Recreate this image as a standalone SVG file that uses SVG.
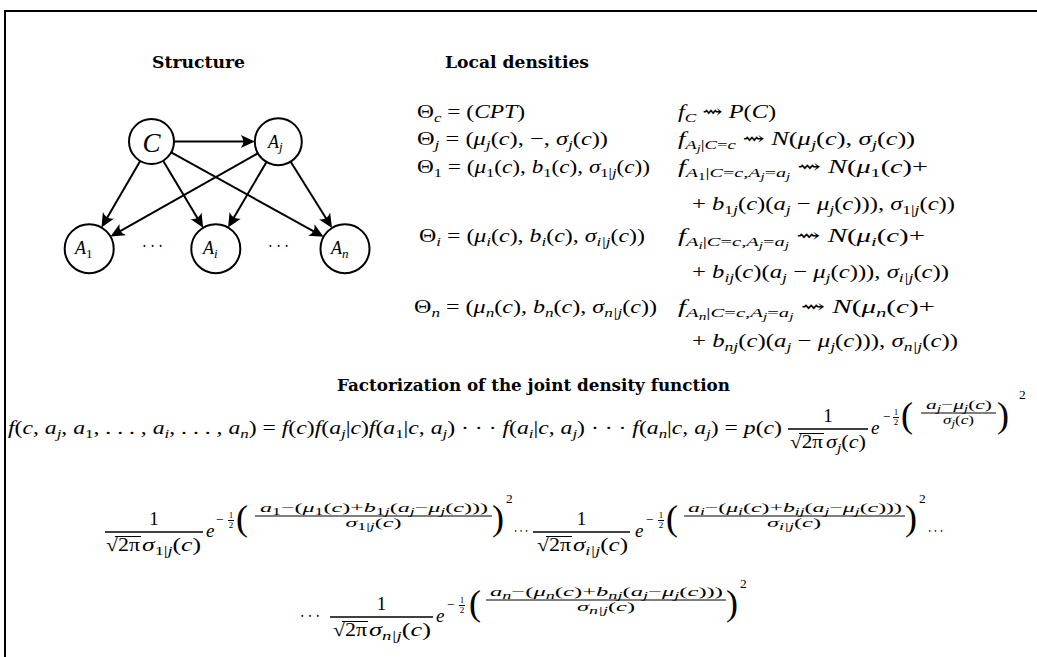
<svg xmlns="http://www.w3.org/2000/svg" width="1037" height="657" viewBox="0 0 1037 657">
<style>
text { font-family: "Liberation Serif", "DejaVu Serif", "DejaVu Sans", serif; fill: #000; }
.m { font-size: 19px; }
.i { font-style: italic; }
.s { font-size: 13.5px; }
.ss { font-size: 10px; }
.e { font-size: 13.5px; }
.es { font-size: 10px; }
.q { font-size: 9px; }
.bp { font-size: 36px; }
.h { font-family: "DejaVu Serif", serif; font-weight: bold; font-size: 16px; }
.nl { font-size: 18px; font-style: italic; }
.nls { font-size: 13px; }
.node circle { fill: #fff; stroke: #000; stroke-width: 2; }
.edge { stroke: #000; stroke-width: 2; fill: none; marker-end: url(#ah); }
.bar { stroke: #000; stroke-width: 1.3; }
.sbar { stroke: #000; stroke-width: 1; }
.frame { stroke: #000; stroke-width: 2; fill: none; }
</style>
<defs>
<marker id="ah" markerUnits="userSpaceOnUse" viewBox="-15 -8 17 16" markerWidth="17" markerHeight="16" refX="-3" refY="0" orient="auto">
<path d="M1,0 L-13,-6.5 Q-8,0 -13,6.5 Z" fill="#000"/>
</marker>
</defs>

<path class="frame" d="M5,657 V11 H1037"/>

<!-- titles -->
<text class="h" x="152" y="68" textLength="93" lengthAdjust="spacingAndGlyphs">Structure</text>
<text class="h" x="445" y="68" textLength="144" lengthAdjust="spacingAndGlyphs">Local densities</text>
<text class="h" x="337" y="391" textLength="393" lengthAdjust="spacingAndGlyphs">Factorization of the joint density function</text>

<!-- connectors -->
<g id="edges">
<path class="edge" d="M174,141.6 L250.8,141.6"/>
<path class="edge" d="M140.2,160.9 L103.5,224"/>
<path class="edge" d="M163.1,160.8 L201.1,224.3"/>
<path class="edge" d="M171.2,152.4 L320.1,234.9"/>
<path class="edge" d="M257.9,153.3 L114,234.6"/>
<path class="edge" d="M266.5,162 L230.1,224"/>
<path class="edge" d="M290.7,161.7 L329.9,224.5"/>
</g>

<!-- nodes -->
<g id="node-C" class="node"><circle cx="151.5" cy="141.5" r="22.5"/><text x="151.5" y="151.5" class="i" font-size="27" text-anchor="middle">C</text></g>
<g id="node-Aj" class="node"><circle cx="278.3" cy="141.7" r="23.5"/><text x="268" y="147.5" class="nl">A<tspan class="nls" dy="3.5">j</tspan></text></g>
<g id="node-A1" class="node"><circle cx="89.2" cy="248.7" r="24.5"/><text x="75" y="254" class="nl">A<tspan class="nls" font-style="normal" dy="3.5">1</tspan></text></g>
<g id="node-Ai" class="node"><circle cx="215.8" cy="248.7" r="24.5"/><text x="203" y="254" class="nl">A<tspan class="nls" dy="3.5">i</tspan></text></g>
<g id="node-An" class="node"><circle cx="345" cy="248.7" r="24.5"/><text x="331" y="254" class="nl">A<tspan class="nls" dy="3.5">n</tspan></text></g>
<text class="m" x="142" y="252" textLength="21" lengthAdjust="spacingAndGlyphs">· · ·</text>
<text class="m" x="268" y="252" textLength="21" lengthAdjust="spacingAndGlyphs">· · ·</text>

<!-- parameter sets -->
<g id="params">
<text class="m" x="417" y="118" textLength="108" lengthAdjust="spacingAndGlyphs">Θ<tspan class="s i" dy="4">c</tspan><tspan dy="-4"> = (</tspan><tspan class="i">CPT</tspan>)</text>
<text class="m" x="417" y="145" textLength="191" lengthAdjust="spacingAndGlyphs">Θ<tspan class="s i" dy="4">j</tspan><tspan dy="-4"> = (</tspan><tspan class="i">μ</tspan><tspan class="s i" dy="4">j</tspan><tspan dy="-4">(</tspan><tspan class="i">c</tspan>), −, <tspan class="i">σ</tspan><tspan class="s i" dy="4">j</tspan><tspan dy="-4">(</tspan><tspan class="i">c</tspan>))</text>
<text class="m" x="417" y="173" textLength="233" lengthAdjust="spacingAndGlyphs">Θ<tspan class="s" dy="4">1</tspan><tspan dy="-4"> = (</tspan><tspan class="i">μ</tspan><tspan class="s" dy="4">1</tspan><tspan dy="-4">(</tspan><tspan class="i">c</tspan>), <tspan class="i">b</tspan><tspan class="s" dy="4">1</tspan><tspan dy="-4">(</tspan><tspan class="i">c</tspan>), <tspan class="i">σ</tspan><tspan class="s" dy="4">1|<tspan class="i">j</tspan></tspan><tspan dy="-4">(</tspan><tspan class="i">c</tspan>))</text>
<text class="m" x="419" y="242" textLength="226" lengthAdjust="spacingAndGlyphs">Θ<tspan class="s i" dy="4">i</tspan><tspan dy="-4"> = (</tspan><tspan class="i">μ</tspan><tspan class="s i" dy="4">i</tspan><tspan dy="-4">(</tspan><tspan class="i">c</tspan>), <tspan class="i">b</tspan><tspan class="s i" dy="4">i</tspan><tspan dy="-4">(</tspan><tspan class="i">c</tspan>), <tspan class="i">σ</tspan><tspan class="s i" dy="4">i|j</tspan><tspan dy="-4">(</tspan><tspan class="i">c</tspan>))</text>
<text class="m" x="414" y="313" textLength="243" lengthAdjust="spacingAndGlyphs">Θ<tspan class="s i" dy="4">n</tspan><tspan dy="-4"> = (</tspan><tspan class="i">μ</tspan><tspan class="s i" dy="4">n</tspan><tspan dy="-4">(</tspan><tspan class="i">c</tspan>), <tspan class="i">b</tspan><tspan class="s i" dy="4">n</tspan><tspan dy="-4">(</tspan><tspan class="i">c</tspan>), <tspan class="i">σ</tspan><tspan class="s i" dy="4">n|j</tspan><tspan dy="-4">(</tspan><tspan class="i">c</tspan>))</text>
</g>

<!-- local densities -->
<g id="densities">
<text class="m" x="678" y="118" textLength="98" lengthAdjust="spacingAndGlyphs"><tspan class="i">f</tspan><tspan class="s i" dy="4">C</tspan><tspan dy="-4"> ⇝ </tspan><tspan class="i">P</tspan>(<tspan class="i">C</tspan>)</text>
<text class="m" x="678" y="145" textLength="237" lengthAdjust="spacingAndGlyphs"><tspan class="i">f</tspan><tspan class="s" dy="4"><tspan class="i">A</tspan><tspan class="ss i" dy="3">j</tspan><tspan dy="-3">|<tspan class="i">C</tspan>=<tspan class="i">c</tspan></tspan></tspan><tspan dy="-4"> ⇝ </tspan><tspan class="i">N</tspan>(<tspan class="i">μ</tspan><tspan class="s i" dy="4">j</tspan><tspan dy="-4">(</tspan><tspan class="i">c</tspan>), <tspan class="i">σ</tspan><tspan class="s i" dy="4">j</tspan><tspan dy="-4">(</tspan><tspan class="i">c</tspan>))</text>
<text class="m" x="678" y="173" textLength="250" lengthAdjust="spacingAndGlyphs"><tspan class="i">f</tspan><tspan class="s" dy="4"><tspan class="i">A</tspan><tspan class="ss" dy="3">1</tspan><tspan dy="-3">|<tspan class="i">C</tspan>=<tspan class="i">c</tspan>,<tspan class="i">A</tspan></tspan><tspan class="ss i" dy="3">j</tspan><tspan dy="-3">=<tspan class="i">a</tspan></tspan><tspan class="ss i" dy="3">j</tspan></tspan><tspan dy="-7"> ⇝ </tspan><tspan class="i">N</tspan>(<tspan class="i">μ</tspan><tspan class="s" dy="4">1</tspan><tspan dy="-4">(</tspan><tspan class="i">c</tspan>)+</text>
<text class="m" x="692" y="210" textLength="263" lengthAdjust="spacingAndGlyphs">+ <tspan class="i">b</tspan><tspan class="s" dy="4">1<tspan class="i">j</tspan></tspan><tspan dy="-4">(</tspan><tspan class="i">c</tspan>)(<tspan class="i">a</tspan><tspan class="s i" dy="4">j</tspan><tspan dy="-4"> − </tspan><tspan class="i">μ</tspan><tspan class="s i" dy="4">j</tspan><tspan dy="-4">(</tspan><tspan class="i">c</tspan>))), <tspan class="i">σ</tspan><tspan class="s" dy="4">1|<tspan class="i">j</tspan></tspan><tspan dy="-4">(</tspan><tspan class="i">c</tspan>))</text>
<text class="m" x="678" y="242" textLength="247" lengthAdjust="spacingAndGlyphs"><tspan class="i">f</tspan><tspan class="s" dy="4"><tspan class="i">A</tspan><tspan class="ss i" dy="3">i</tspan><tspan dy="-3">|<tspan class="i">C</tspan>=<tspan class="i">c</tspan>,<tspan class="i">A</tspan></tspan><tspan class="ss i" dy="3">j</tspan><tspan dy="-3">=<tspan class="i">a</tspan></tspan><tspan class="ss i" dy="3">j</tspan></tspan><tspan dy="-7"> ⇝ </tspan><tspan class="i">N</tspan>(<tspan class="i">μ</tspan><tspan class="s i" dy="4">i</tspan><tspan dy="-4">(</tspan><tspan class="i">c</tspan>)+</text>
<text class="m" x="692" y="278" textLength="257" lengthAdjust="spacingAndGlyphs">+ <tspan class="i">b</tspan><tspan class="s i" dy="4">ij</tspan><tspan dy="-4">(</tspan><tspan class="i">c</tspan>)(<tspan class="i">a</tspan><tspan class="s i" dy="4">j</tspan><tspan dy="-4"> − </tspan><tspan class="i">μ</tspan><tspan class="s i" dy="4">j</tspan><tspan dy="-4">(</tspan><tspan class="i">c</tspan>))), <tspan class="i">σ</tspan><tspan class="s i" dy="4">i|j</tspan><tspan dy="-4">(</tspan><tspan class="i">c</tspan>))</text>
<text class="m" x="678" y="313" textLength="257" lengthAdjust="spacingAndGlyphs"><tspan class="i">f</tspan><tspan class="s" dy="4"><tspan class="i">A</tspan><tspan class="ss i" dy="3">n</tspan><tspan dy="-3">|<tspan class="i">C</tspan>=<tspan class="i">c</tspan>,<tspan class="i">A</tspan></tspan><tspan class="ss i" dy="3">j</tspan><tspan dy="-3">=<tspan class="i">a</tspan></tspan><tspan class="ss i" dy="3">j</tspan></tspan><tspan dy="-7"> ⇝ </tspan><tspan class="i">N</tspan>(<tspan class="i">μ</tspan><tspan class="s i" dy="4">n</tspan><tspan dy="-4">(</tspan><tspan class="i">c</tspan>)+</text>
<text class="m" x="692" y="347" textLength="266" lengthAdjust="spacingAndGlyphs">+ <tspan class="i">b</tspan><tspan class="s i" dy="4">nj</tspan><tspan dy="-4">(</tspan><tspan class="i">c</tspan>)(<tspan class="i">a</tspan><tspan class="s i" dy="4">j</tspan><tspan dy="-4"> − </tspan><tspan class="i">μ</tspan><tspan class="s i" dy="4">j</tspan><tspan dy="-4">(</tspan><tspan class="i">c</tspan>))), <tspan class="i">σ</tspan><tspan class="s i" dy="4">n|j</tspan><tspan dy="-4">(</tspan><tspan class="i">c</tspan>))</text>
</g>

<!-- factorization, first line -->
<g id="factor-1">
<text class="m" x="8" y="434" textLength="774" lengthAdjust="spacingAndGlyphs"><tspan class="i">f</tspan>(<tspan class="i">c</tspan>, <tspan class="i">a</tspan><tspan class="s i" dy="4">j</tspan><tspan dy="-4">, </tspan><tspan class="i">a</tspan><tspan class="s" dy="4">1</tspan><tspan dy="-4">, . . . , </tspan><tspan class="i">a</tspan><tspan class="s i" dy="4">i</tspan><tspan dy="-4">, . . . , </tspan><tspan class="i">a</tspan><tspan class="s i" dy="4">n</tspan><tspan dy="-4">) = </tspan><tspan class="i">f</tspan>(<tspan class="i">c</tspan>)<tspan class="i">f</tspan>(<tspan class="i">a</tspan><tspan class="s i" dy="4">j</tspan><tspan dy="-4">|</tspan><tspan class="i">c</tspan>)<tspan class="i">f</tspan>(<tspan class="i">a</tspan><tspan class="s" dy="4">1</tspan><tspan dy="-4">|</tspan><tspan class="i">c</tspan>, <tspan class="i">a</tspan><tspan class="s i" dy="4">j</tspan><tspan dy="-4">) · · · </tspan><tspan class="i">f</tspan>(<tspan class="i">a</tspan><tspan class="s i" dy="4">i</tspan><tspan dy="-4">|</tspan><tspan class="i">c</tspan>, <tspan class="i">a</tspan><tspan class="s i" dy="4">j</tspan><tspan dy="-4">) · · · </tspan><tspan class="i">f</tspan>(<tspan class="i">a</tspan><tspan class="s i" dy="4">n</tspan><tspan dy="-4">|</tspan><tspan class="i">c</tspan>, <tspan class="i">a</tspan><tspan class="s i" dy="4">j</tspan><tspan dy="-4">) = </tspan><tspan class="i">p</tspan>(<tspan class="i">c</tspan>)</text>
<line class="bar" x1="788" y1="429" x2="868" y2="429"/>
<text class="m" x="828" y="422" text-anchor="middle">1</text>
<text class="m" x="790" y="448" textLength="33" lengthAdjust="spacingAndGlyphs">√2π</text>
<line class="sbar" x1="799" y1="433.5" x2="824" y2="433.5"/>
<text class="m" x="826" y="448" textLength="40" lengthAdjust="spacingAndGlyphs"><tspan class="i">σ</tspan><tspan class="s i" dy="4">j</tspan><tspan dy="-4">(</tspan><tspan class="i">c</tspan>)</text>
<text class="m i" x="871" y="434">e</text>
<text class="e" x="883" y="421">−</text>
<text class="q" x="896" y="415" text-anchor="middle">1</text>
<line class="sbar" x1="893" y1="417.5" x2="899" y2="417.5"/>
<text class="q" x="896" y="424.5" text-anchor="middle">2</text>
<text class="bp" x="901" y="427">(</text>
<text class="e" x="926" y="409" textLength="66" lengthAdjust="spacingAndGlyphs"><tspan class="i">a</tspan><tspan class="es i" dy="3">j</tspan><tspan dy="-3">−</tspan><tspan class="i">μ</tspan><tspan class="es i" dy="3">j</tspan><tspan dy="-3">(</tspan><tspan class="i">c</tspan>)</text>
<line class="sbar" x1="921" y1="413" x2="996" y2="413"/>
<text class="e" x="943" y="424" textLength="31" lengthAdjust="spacingAndGlyphs"><tspan class="i">σ</tspan><tspan class="es i" dy="3">j</tspan><tspan dy="-3">(</tspan><tspan class="i">c</tspan>)</text>
<text class="bp" x="997" y="427">)</text>
<text class="e" x="1019" y="399">2</text>
</g>

<!-- factorization, second line -->
<g id="factor-2">
<line class="bar" x1="105" y1="532" x2="203" y2="532"/>
<text class="m" x="154" y="525" text-anchor="middle">1</text>
<text class="m" x="106" y="551" textLength="34" lengthAdjust="spacingAndGlyphs">√2π</text>
<line class="sbar" x1="115" y1="536.5" x2="141" y2="536.5"/>
<text class="m" x="142" y="551" textLength="59" lengthAdjust="spacingAndGlyphs"><tspan class="i">σ</tspan><tspan class="s" dy="4">1|<tspan class="i">j</tspan></tspan><tspan dy="-4">(</tspan><tspan class="i">c</tspan>)</text>
<text class="m i" x="206" y="537">e</text>
<text class="e" x="216" y="524">−</text>
<text class="q" x="231" y="518" text-anchor="middle">1</text>
<line class="sbar" x1="228" y1="520.5" x2="234" y2="520.5"/>
<text class="q" x="231" y="528" text-anchor="middle">2</text>
<text class="bp" x="236" y="530">(</text>
<text class="e" x="260" y="512" textLength="228" lengthAdjust="spacingAndGlyphs"><tspan class="i">a</tspan><tspan class="es" dy="3">1</tspan><tspan dy="-3">−(</tspan><tspan class="i">μ</tspan><tspan class="es" dy="3">1</tspan><tspan dy="-3">(</tspan><tspan class="i">c</tspan>)+<tspan class="i">b</tspan><tspan class="es" dy="3">1<tspan class="i">j</tspan></tspan><tspan dy="-3">(</tspan><tspan class="i">a</tspan><tspan class="es i" dy="3">j</tspan><tspan dy="-3">−</tspan><tspan class="i">μ</tspan><tspan class="es i" dy="3">j</tspan><tspan dy="-3">(</tspan><tspan class="i">c</tspan>)))</text>
<line class="sbar" x1="255" y1="516" x2="492" y2="516"/>
<text class="e" x="345.5" y="527" textLength="56" lengthAdjust="spacingAndGlyphs"><tspan class="i">σ</tspan><tspan class="es" dy="3">1|<tspan class="i">j</tspan></tspan><tspan dy="-3">(</tspan><tspan class="i">c</tspan>)</text>
<text class="bp" x="492" y="530">)</text>
<text class="e" x="506" y="503">2</text>
<text class="m" x="514" y="537" textLength="14" lengthAdjust="spacingAndGlyphs">· · ·</text>

<line class="bar" x1="533" y1="532" x2="630" y2="532"/>
<text class="m" x="581.5" y="525" text-anchor="middle">1</text>
<text class="m" x="537" y="551" textLength="34" lengthAdjust="spacingAndGlyphs">√2π</text>
<line class="sbar" x1="546" y1="536.5" x2="572" y2="536.5"/>
<text class="m" x="573" y="551" textLength="55" lengthAdjust="spacingAndGlyphs"><tspan class="i">σ</tspan><tspan class="s i" dy="4">i|j</tspan><tspan dy="-4">(</tspan><tspan class="i">c</tspan>)</text>
<text class="m i" x="635" y="537">e</text>
<text class="e" x="646" y="524">−</text>
<text class="q" x="661" y="518" text-anchor="middle">1</text>
<line class="sbar" x1="658" y1="520.5" x2="664" y2="520.5"/>
<text class="q" x="661" y="528" text-anchor="middle">2</text>
<text class="bp" x="666" y="530">(</text>
<text class="e" x="688" y="512" textLength="214" lengthAdjust="spacingAndGlyphs"><tspan class="i">a</tspan><tspan class="es i" dy="3">i</tspan><tspan dy="-3">−(</tspan><tspan class="i">μ</tspan><tspan class="es i" dy="3">i</tspan><tspan dy="-3">(</tspan><tspan class="i">c</tspan>)+<tspan class="i">b</tspan><tspan class="es i" dy="3">ij</tspan><tspan dy="-3">(</tspan><tspan class="i">a</tspan><tspan class="es i" dy="3">j</tspan><tspan dy="-3">−</tspan><tspan class="i">μ</tspan><tspan class="es i" dy="3">j</tspan><tspan dy="-3">(</tspan><tspan class="i">c</tspan>)))</text>
<line class="sbar" x1="684" y1="516" x2="905" y2="516"/>
<text class="e" x="767" y="527" textLength="54" lengthAdjust="spacingAndGlyphs"><tspan class="i">σ</tspan><tspan class="es i" dy="3">i|j</tspan><tspan dy="-3">(</tspan><tspan class="i">c</tspan>)</text>
<text class="bp" x="905" y="530">)</text>
<text class="e" x="919" y="503">2</text>
<text class="m" x="928" y="537" textLength="15" lengthAdjust="spacingAndGlyphs">· · ·</text>
</g>

<!-- factorization, third line -->
<g id="factor-3">
<text class="m" x="300" y="622" textLength="20" lengthAdjust="spacingAndGlyphs">· · ·</text>
<line class="bar" x1="330" y1="617" x2="433" y2="617"/>
<text class="m" x="381.5" y="610" text-anchor="middle">1</text>
<text class="m" x="333" y="636" textLength="34" lengthAdjust="spacingAndGlyphs">√2π</text>
<line class="sbar" x1="342" y1="621.5" x2="368" y2="621.5"/>
<text class="m" x="369" y="636" textLength="62" lengthAdjust="spacingAndGlyphs"><tspan class="i">σ</tspan><tspan class="s i" dy="4">n|j</tspan><tspan dy="-4">(</tspan><tspan class="i">c</tspan>)</text>
<text class="m i" x="436" y="622">e</text>
<text class="e" x="447" y="609">−</text>
<text class="q" x="462" y="603" text-anchor="middle">1</text>
<line class="sbar" x1="459" y1="605.5" x2="465" y2="605.5"/>
<text class="q" x="462" y="613" text-anchor="middle">2</text>
<text class="bp" x="469" y="615">(</text>
<text class="e" x="490" y="596" textLength="233" lengthAdjust="spacingAndGlyphs"><tspan class="i">a</tspan><tspan class="es i" dy="3">n</tspan><tspan dy="-3">−(</tspan><tspan class="i">μ</tspan><tspan class="es i" dy="3">n</tspan><tspan dy="-3">(</tspan><tspan class="i">c</tspan>)+<tspan class="i">b</tspan><tspan class="es i" dy="3">nj</tspan><tspan dy="-3">(</tspan><tspan class="i">a</tspan><tspan class="es i" dy="3">j</tspan><tspan dy="-3">−</tspan><tspan class="i">μ</tspan><tspan class="es i" dy="3">j</tspan><tspan dy="-3">(</tspan><tspan class="i">c</tspan>)))</text>
<line class="sbar" x1="486" y1="600" x2="726" y2="600"/>
<text class="e" x="577" y="611" textLength="58" lengthAdjust="spacingAndGlyphs"><tspan class="i">σ</tspan><tspan class="es i" dy="3">n|j</tspan><tspan dy="-3">(</tspan><tspan class="i">c</tspan>)</text>
<text class="bp" x="726" y="615">)</text>
<text class="e" x="740" y="588">2</text>
</g>
</svg>
